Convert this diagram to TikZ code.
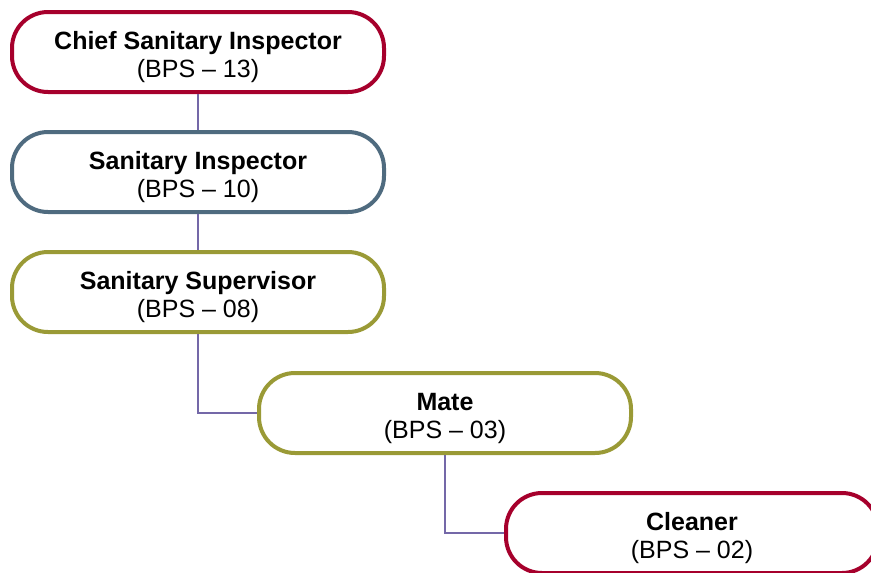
\documentclass[tikz,border=0pt]{standalone}
\usepackage{fontspec}
\setmainfont{Liberation Sans}
\definecolor{postred}{HTML}{A6002C}
\definecolor{postblue}{HTML}{4F6B7F}
\definecolor{postolive}{HTML}{9A9A36}
\definecolor{linkc}{HTML}{7468A8}
\newcommand{\postup}{\rule{0pt}{28pt}}
\begin{document}
\begin{tikzpicture}[x=1pt, y=-1pt, font=\fontsize{25}{28}\selectfont,
    post/.style={draw, fill=white, line width=4pt, rounded corners=36pt,
      minimum width=372pt, minimum height=80pt, align=center, inner sep=0pt},
    link/.style={draw=linkc, line width=1.3pt}]
    \useasboundingbox (0,0) rectangle (871,573);
    \node[post, draw=postred] (chief) at(198, 52){\postup\textbf{Chief Sanitary Inspector}\\(BPS -- 13)};
    \node[post, draw=postblue] (insp) at(198, 172){\postup\textbf{Sanitary Inspector}\\(BPS -- 10)};
    \node[post, draw=postolive] (super) at(198, 292){\postup\textbf{Sanitary Supervisor}\\(BPS -- 08)};
    \node[post, draw=postolive] (mate) at(445, 413){\postup\textbf{Mate}\\(BPS -- 03)};
    \node[post, draw=postred] (cleaner) at(692, 533){\postup\textbf{Cleaner}\\(BPS -- 02)};
    \draw[link](chief.south)--(insp.north);
    \draw[link](insp.south)--(super.north);
    \draw[link](super.south)|-(mate.west);
    \draw[link](mate.south)|-(cleaner.west);
  \end{tikzpicture}
\end{document}
